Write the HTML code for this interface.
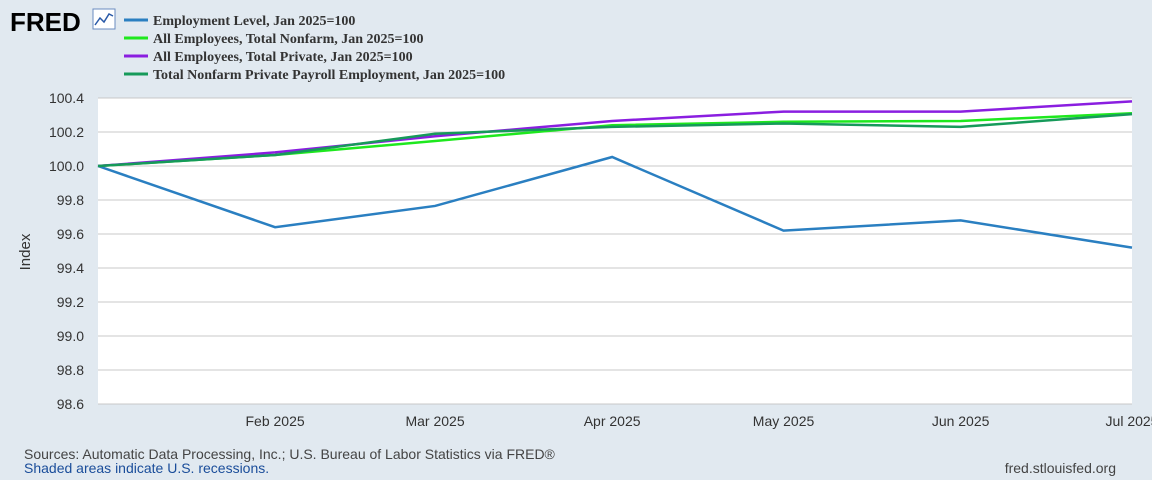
<!DOCTYPE html>
<html><head><meta charset="utf-8"><style>
body{margin:0;background:#e1e9f0;font-family:"Liberation Sans",sans-serif;}
svg{display:block}
</style></head><body>
<svg id="c" width="1152" height="480" xmlns="http://www.w3.org/2000/svg">
<rect width="1152" height="480" fill="#e1e9f0"/>
<text x="10" y="31" font-size="26" font-weight="bold" fill="#000" font-family="Liberation Sans">FRED</text>
<g><rect x="93" y="9" width="22" height="20" fill="#fff" stroke="#6a8cc0"/><polyline points="95,25 100,18 104,22 109,14 113,16" fill="none" stroke="#2a5aa8" stroke-width="1.5"/></g>
<g id="legend" font-family="Liberation Serif" font-weight="bold" font-size="14" fill="#333"></g>
<rect x="98" y="98" width="1034" height="306" fill="#fff"/>
<g id="grid"></g><g id="series"></g><g id="axes" font-size="14" fill="#333"></g>
<text x="30" y="252" font-size="15" fill="#333" transform="rotate(-90 30 252)" text-anchor="middle">Index</text>
<text x="24" y="459" font-size="14" fill="#444">Sources: Automatic Data Processing, Inc.; U.S. Bureau of Labor Statistics via FRED®</text>
<text x="24" y="473" font-size="14" fill="#1a4d9a">Shaded areas indicate U.S. recessions.</text>
<text x="1116" y="473" font-size="14" fill="#444" text-anchor="end">fred.stlouisfed.org</text>
</svg>
<script>
const months=["Jan 2025","Feb 2025","Mar 2025","Apr 2025","May 2025","Jun 2025","Jul 2025"];
const dayOffsets=[0,31,59,90,120,151,181];
const yTicks=[98.6,98.8,99.0,99.2,99.4,99.6,99.8,100.0,100.2,100.4];
const seriesNames=["Employment Level, Jan 2025=100","All Employees, Total Nonfarm, Jan 2025=100","All Employees, Total Private, Jan 2025=100","Total Nonfarm Private Payroll Employment, Jan 2025=100"];
const seriesColors=["#2a7fc1","#1ee81e","#8a1ee0","#169a5a"];
const employmentLevel=[100,99.64,99.765,100.053,99.62,99.68,99.52];
const totalNonfarm=[100,100.065,100.147,100.24,100.26,100.265,100.31];
const totalPrivate=[100,100.08,100.175,100.265,100.32,100.32,100.38];
const adpPrivate=[100,100.065,100.19,100.23,100.25,100.23,100.305];
const allSeries=[employmentLevel,totalNonfarm,totalPrivate,adpPrivate];
const NS="http://www.w3.org/2000/svg";
const x=d=>98+d/181*1034, y=v=>98+(100.4-v)/1.8*306;
function mk(t,a,p){const e=document.createElementNS(NS,t);for(const k in a)e.setAttribute(k,a[k]);p.appendChild(e);return e;}
const grid=document.getElementById('grid'),axes=document.getElementById('axes'),ser=document.getElementById('series'),leg=document.getElementById('legend');
yTicks.forEach(v=>{
 const l=mk('line',{x1:98,x2:1132,y1:y(v),y2:y(v),stroke:'#c8c8c8'},grid);
 
 
 const t=mk('text',{x:84,y:y(v)+5,'text-anchor':'end'},axes);t.textContent=v.toFixed(1);
 
 
});
months.forEach((m,i)=>{if(i==0)return;
 const t=mk('text',{x:x(dayOffsets[i]),y:426,'text-anchor':'middle'},axes);t.textContent=m;
 
 
});
allSeries.forEach((s,k)=>{
 const p=mk('polyline',{points:s.map((v,i)=>x(dayOffsets[i])+','+y(v)).join(' '),fill:'none',stroke:seriesColors[k],'stroke-width':2.5},ser);
 
 
 const g=mk('g',{},leg);
 
 
 mk('line',{x1:124,x2:148,y1:20+k*18,y2:20+k*18,stroke:seriesColors[k],'stroke-width':3},g);
 const t=mk('text',{x:153,y:25+k*18},g);t.textContent=seriesNames[k];
});
</script>
</body></html>
